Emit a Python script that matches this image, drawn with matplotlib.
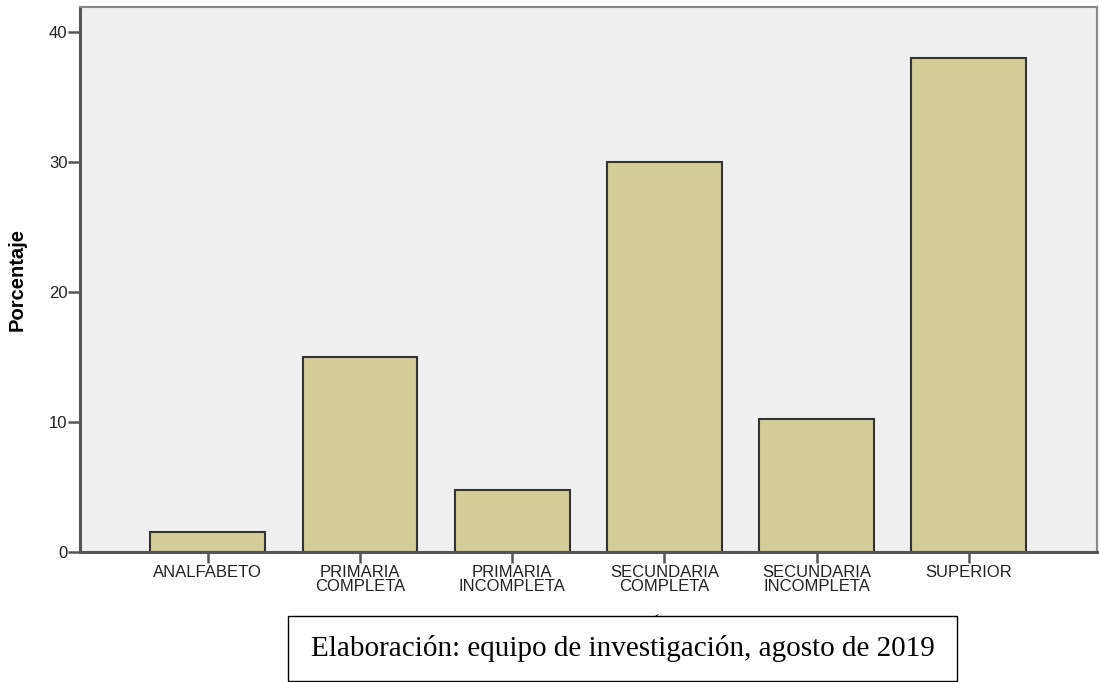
"""Porcentaje por nivel de instrucción, estilo SPSS."""

import matplotlib
matplotlib.use("Agg")
import matplotlib.pyplot as plt
from matplotlib import font_manager
from matplotlib.patches import Rectangle

categories = [
    "ANALFABETO",
    "PRIMARIA\nCOMPLETA",
    "PRIMARIA\nINCOMPLETA",
    "SECUNDARIA\nCOMPLETA",
    "SECUNDARIA\nINCOMPLETA",
    "SUPERIOR",
]
percentages = [1.55, 15.0, 4.75, 30.0, 10.25, 38.0]
y_ticks = [0, 10, 20, 30, 40]
y_label = "Porcentaje"
x_label = "GRADO DE INSTRUCCIÓN"
caption = "Elaboración: equipo de investigación, agosto de 2019"

BAR_COLOR = "#d3ce97"
FACE_COLOR = "#f0f0f0"
AXIS_COLOR = "#555555"


def pick_family(names):
    installed = {f.name for f in font_manager.fontManager.ttflist}
    for name in names:
        if name in installed:
            return name
    return "DejaVu Sans"


def main() -> None:
    sans = pick_family(["Liberation Sans", "Arial"])
    narrow = pick_family(["Liberation Sans Narrow", "Liberation Sans"])
    serif = pick_family(["Liberation Serif", "DejaVu Serif"])

    fig = plt.figure(figsize=(10.99, 6.82), dpi=100)
    ax = fig.add_axes([0.0728, 0.1906, 0.925, 0.799])
    ax.set_facecolor(FACE_COLOR)

    positions = list(range(len(categories)))
    ax.bar(positions, percentages, width=0.755, color=BAR_COLOR,
           edgecolor="#333333", linewidth=1.5, zorder=2)

    ax.set_xlim(-0.84, len(categories) - 1 + 0.84)
    ax.set_ylim(0, 41.9)
    ax.set_xticks(positions)
    ax.set_xticklabels(categories, fontsize=12, family=sans,
                       linespacing=0.95, color="#222222")
    ax.set_yticks(y_ticks)
    ax.set_yticklabels([str(t) for t in y_ticks], fontsize=12, family=sans,
                       color="#222222")
    ax.tick_params(axis="y", length=9, width=1.8, color=AXIS_COLOR, pad=0)
    ax.tick_params(axis="x", length=8, width=1.8, color=AXIS_COLOR, pad=1)

    for side, spine in ax.spines.items():
        spine.set_color(AXIS_COLOR if side in ("left", "bottom") else "#888888")
        spine.set_linewidth(2.2 if side in ("left", "bottom") else 1.5)

    ax.set_ylabel(y_label, fontsize=14.5, fontweight="bold", family=narrow)
    ax.yaxis.set_label_coords(-0.062, 0.5)
    ax.yaxis.label.set_va("center")

    # axis title sits mostly under the caption box, only its accent shows
    ax.set_xlabel(x_label, fontsize=9.5, fontweight="bold", family=sans)
    ax.xaxis.set_label_coords(0.5, -0.136)
    ax.xaxis.label.set_va("baseline")

    fig.add_artist(Rectangle((288 / 1099, 1 - 681 / 682), 669 / 1099, 65 / 682,
                             transform=fig.transFigure, facecolor="white",
                             edgecolor="black", linewidth=1.0, zorder=10))
    fig.text(622.5 / 1099, 1 - 648.5 / 682, caption, ha="center", va="center",
             fontsize=21, family=serif, zorder=11)

    fig.savefig("out.png", dpi=100, facecolor="white")
    plt.close(fig)


if __name__ == "__main__":
    main()
